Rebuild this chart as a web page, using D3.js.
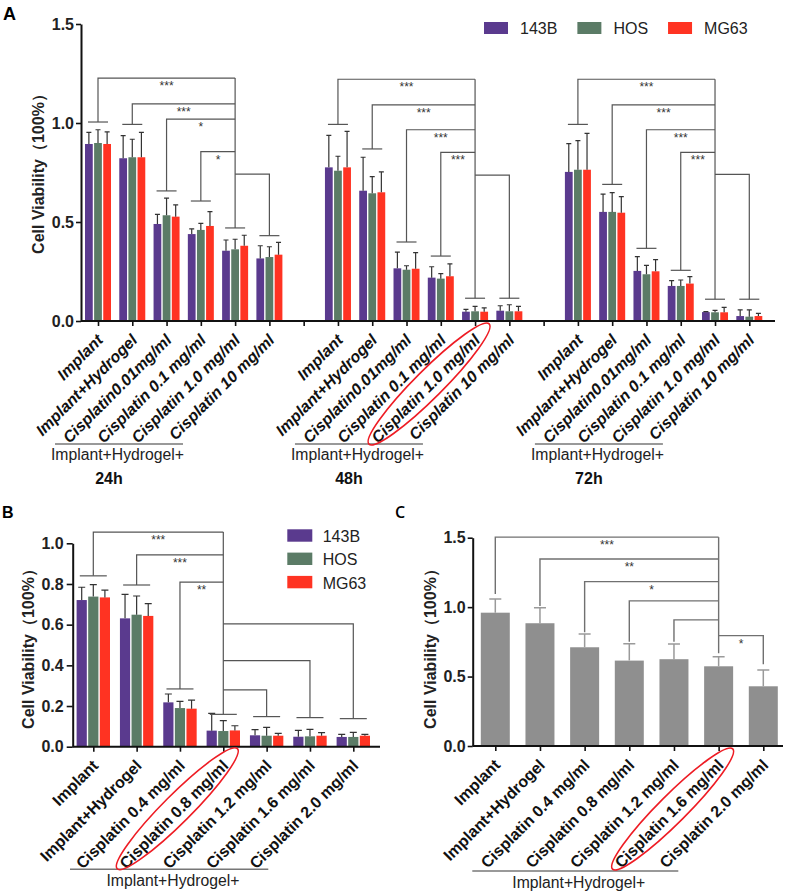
<!DOCTYPE html>
<html><head><meta charset="utf-8">
<script src="https://cdn.jsdelivr.net/npm/d3@7"></script>
<style>body{margin:0;background:#fff} svg{display:block}</style>
</head><body>
<svg id="c" width="789" height="892"></svg>
<script>
// ---------------- DATA ----------------
const series = ["143B", "HOS", "MG63"];
const seriesColors = ["#5a3a8e", "#5b7b66", "#ff3322"];
const timepoints = ["24h", "48h", "72h"];
const catsA = ["Implant", "Implant+Hydrogel", "Cisplatin0.01mg/ml", "Cisplatin 0.1 mg/ml", "Cisplatin 1.0 mg/ml", "Cisplatin 10  mg/ml"];
const catsB = ["Implant", "Implant+Hydrogel", "Cisplatin 0.4 mg/ml", "Cisplatin 0.8 mg/ml", "Cisplatin 1.2 mg/ml", "Cisplatin 1.6 mg/ml", "Cisplatin 2.0 mg/ml"];
const catsC = catsB.slice();
const groupLabel = "Implant+Hydrogel+";

// Panel A means / SD  [category][series]
const meanA24 = [[0.894,0.899,0.894],[0.822,0.827,0.827],[0.490,0.534,0.527],[0.439,0.460,0.480],[0.355,0.362,0.380],[0.316,0.323,0.335]];
const sdA24   = [[0.059,0.067,0.061],[0.114,0.091,0.126],[0.049,0.087,0.059],[0.026,0.033,0.072],[0.054,0.051,0.053],[0.064,0.052,0.062]];
const meanA48 = [[0.776,0.759,0.776],[0.658,0.645,0.650],[0.266,0.259,0.264],[0.219,0.214,0.226],[0.047,0.049,0.047],[0.052,0.049,0.049]];
const sdA48   = [[0.162,0.073,0.182],[0.169,0.084,0.103],[0.082,0.020,0.081],[0.055,0.025,0.063],[0.012,0.025,0.019],[0.025,0.033,0.025]];
const meanA72 = [[0.753,0.764,0.764],[0.551,0.551,0.547],[0.253,0.236,0.251],[0.177,0.177,0.189],[0.045,0.044,0.044],[0.025,0.022,0.025]];
const sdA72   = [[0.143,0.147,0.184],[0.090,0.097,0.081],[0.072,0.045,0.059],[0.027,0.030,0.035],[0.002,0.010,0.025],[0.031,0.034,0.014]];

// Panel B
const meanB = [[0.721,0.738,0.734],[0.631,0.649,0.643],[0.218,0.190,0.187],[0.079,0.077,0.080],[0.056,0.054,0.054],[0.049,0.051,0.054],[0.048,0.048,0.054]];
const sdB   = [[0.063,0.059,0.036],[0.118,0.092,0.060],[0.041,0.033,0.042],[0.085,0.051,0.023],[0.028,0.041,0.012],[0.031,0.034,0.015],[0.013,0.022,0.007]];

// Panel C (single series)
const meanC = [0.960,0.884,0.711,0.615,0.625,0.574,0.430];
const sdC   = [0.099,0.112,0.096,0.122,0.110,0.069,0.118];

// y tick values
const ticksA = [0, 0.5, 1.0, 1.5];
const ticksB = [0, 0.2, 0.4, 0.6, 0.8, 1.0];
const ticksC = [0, 0.5, 1.0, 1.5];

// significance brackets: ref category, cap level per category, links [other, level, label]
const sigA24 = {ref:4, caps:[1.005,0.993,0.657,0.606,0.470,0.431], links:[[0,1.227,"***"],[1,1.097,"***"],[2,1.020,"*"],[3,0.855,"*"],[5,0.742,""]]};
const sigA48 = {ref:4, caps:[0.993,0.869,0.399,0.328,0.115,0.115], links:[[0,1.221,"***"],[1,1.092,"***"],[2,0.966,"***"],[3,0.852,"***"],[5,0.737,""]]};
const sigA72 = {ref:4, caps:[0.993,0.690,0.367,0.256,0.110,0.110], links:[[0,1.221,"***"],[1,1.092,"***"],[2,0.966,"***"],[3,0.852,"***"],[5,0.741,""]]};
const sigB   = {ref:3, caps:[0.840,0.795,0.284,0.159,0.148,0.143,0.138], links:[[0,1.055,"***"],[1,0.943,"***"],[2,0.809,"**"],[6,0.604,""],[5,0.423,""],[4,0.279,""]]};
const sigC   = {ref:5, caps:[1.095,1.009,0.819,0.751,0.751,0.668,0.589], links:[[0,1.504,"***"],[1,1.347,"**"],[2,1.184,"*"],[3,1.045,""],[4,0.908,""],[6,0.795,"*"]]};

// ---------------- DRAW ----------------
const FONT = "'Liberation Sans', Arial, Helvetica, sans-serif";
const NARROW = "'Liberation Sans Narrow', 'Arial Narrow', 'Liberation Sans', sans-serif";
const svg = d3.select("#c");

function yAxis(g, y, ticks, left, size, pad, fs) {
  const ax = d3.axisLeft(y).tickValues(ticks).tickFormat(d3.format(".1f")).tickSize(size).tickPadding(pad).tickSizeOuter(0);
  const a = g.append("g").attr("transform", `translate(${left},0)`).call(ax);
  a.select(".domain").attr("stroke", "#111").attr("stroke-width", 2);
  a.selectAll(".tick line").attr("stroke", "#111").attr("stroke-width", 1.6);
  a.selectAll(".tick text").attr("font-family", FONT).attr("font-weight", "bold").attr("font-size", fs).attr("fill", "#222");
}
function xAxis(g, x, axisY, left, right) {
  const ax = d3.axisBottom(x).tickSize(5).tickFormat("").tickSizeOuter(0);
  const a = g.append("g").attr("transform", `translate(0,${axisY})`).call(ax);
  a.select(".domain").attr("d", `M${left},0H${right}`).attr("stroke", "#111").attr("stroke-width", 2);
  a.selectAll(".tick line").attr("stroke", "#111").attr("stroke-width", 1.6);
}
function xLabels(g, items, axisY, italic) {
  g.selectAll(null).data(items).join("text")
    .attr("transform", d => `translate(${d.x + 6},${axisY + 20}) rotate(-45)`)
    .attr("text-anchor", "end")
    .attr("font-family", FONT).attr("font-weight", "bold")
    .attr("font-style", italic ? "italic" : "normal")
    .attr("font-size", 16).attr("fill", "#111")
    .text(d => d.label);
}
function brackets(g, xf, y, spec, capHalf, stroke, sw) {
  const xr = xf(spec.ref);
  let topRef = -Infinity;
  spec.links.forEach(([o, lvl, lab]) => {
    const xo = xf(o);
    topRef = Math.max(topRef, lvl);
    g.append("path").attr("d", `M${xo},${y(spec.caps[o])}V${y(lvl)}H${xr}`)
      .attr("fill", "none").attr("stroke", stroke).attr("stroke-width", sw);
    if (lab) g.append("text").attr("x", (xo + xr) / 2).attr("y", y(lvl) + 12)
      .attr("text-anchor", "middle").attr("font-family", FONT).attr("font-size", 12)
      .attr("fill", "#333").text(lab);
  });
  g.append("path").attr("d", `M${xr},${y(topRef)}V${y(spec.caps[spec.ref])}`)
    .attr("fill", "none").attr("stroke", stroke).attr("stroke-width", sw);
  if (capHalf > 0) {
    spec.caps.forEach((c, i) => {
      g.append("line").attr("x1", xf(i) - capHalf).attr("x2", xf(i) + capHalf)
        .attr("y1", y(c)).attr("y2", y(c)).attr("stroke", stroke).attr("stroke-width", sw);
    });
  }
}
function groupedBars(g, xf, sub, y, means, sds, capHalf) {
  means.forEach((row, ci) => {
    row.forEach((v, si) => {
      const cx = xf(ci) + sub(series[si]);
      const bw = sub.bandwidth();
      g.append("rect").attr("x", cx).attr("y", y(v)).attr("width", bw).attr("height", y(0) - y(v))
        .attr("fill", seriesColors[si]);
      const mx = cx + bw / 2, top = y(v + sds[ci][si]);
      g.append("path").attr("d", `M${mx},${y(v)}V${top}M${mx - capHalf},${top}H${mx + capHalf}`)
        .attr("stroke", "#333").attr("stroke-width", 1.2).attr("fill", "none");
    });
  });
}
function underline(g, x1, x2, yl, tx, ty) {
  g.append("line").attr("x1", x1).attr("x2", x2).attr("y1", yl).attr("y2", yl)
    .attr("stroke", "#777").attr("stroke-width", 1.6);
  g.append("text").attr("x", tx).attr("y", ty).attr("text-anchor", "middle")
    .attr("font-family", NARROW).attr("font-size", 16).attr("fill", "#222")
    .attr("textLength", 133).attr("lengthAdjust", "spacingAndGlyphs").text(groupLabel);
}
function yTitle(g, cx, cy) {
  g.append("text").attr("transform", `translate(${cx},${cy}) rotate(-90)`)
    .attr("text-anchor", "middle").attr("dominant-baseline", "central")
    .attr("font-family", FONT).attr("font-weight", "bold").attr("font-size", 16).attr("fill", "#222")
    .text("Cell Viability（100%）");
}
function ellipse(g, cx, cy) {
  g.append("ellipse").attr("cx", 0).attr("cy", 0).attr("rx", 85).attr("ry", 14)
    .attr("transform", `translate(${cx},${cy}) rotate(-45)`)
    .attr("fill", "none").attr("stroke", "#ee1c24").attr("stroke-width", 1.6);
}

// ===== Panel A =====
const gA = svg.append("g");
const slots = [];
timepoints.forEach((t, ti) => { if (ti > 0) slots.push("gap" + ti); catsA.forEach((c, ci) => slots.push(ti + "-" + ci)); });
const xA = d3.scalePoint().domain(slots).range([98, 749.3]);
const yA = d3.scaleLinear().domain([0, 1.5]).range([321, 24]);
const subA = d3.scaleBand().domain(series).range([-13, 13]).paddingInner(0.15);
const meansA = [meanA24, meanA48, meanA72], sdsA = [sdA24, sdA48, sdA72], sigsA = [sigA24, sigA48, sigA72];

gA.append("text").attr("x", 3).attr("y", 20).attr("font-family", FONT).attr("font-weight", "bold").attr("font-size", 18).text("A");
timepoints.forEach((t, ti) => {
  const xf = ci => xA(ti + "-" + ci);
  groupedBars(gA, xf, subA, yA, meansA[ti], sdsA[ti], 2.5);
  brackets(gA, xf, yA, sigsA[ti], 10, "#555", 1.2);
  xLabels(gA, catsA.map((c, ci) => ({x: xf(ci), label: c})), 321, true);
  const x0 = xf(0);
  underline(gA, x0 - 43, x0 + 85, 444, x0 + 19.5, 460);
  gA.append("text").attr("x", x0 + 11).attr("y", 484).attr("text-anchor", "middle")
    .attr("font-family", FONT).attr("font-weight", "bold").attr("font-size", 16).attr("fill", "#111").text(t);
});
xAxis(gA, xA, 321, 81, 775);
yAxis(gA, yA, ticksA, 81, 5, 2, 16);
yTitle(gA, 38, 170);
ellipse(gA, xA("1-4") - 46, 321 + 63);

// legend A
{
  let lx = 484;
  series.forEach((s, i) => {
    gA.append("rect").attr("x", lx).attr("y", 22).attr("width", 24).attr("height", 12).attr("fill", seriesColors[i]);
    const t = gA.append("text").attr("x", lx + 36).attr("y", 34).attr("font-family", FONT).attr("font-size", 16).attr("fill", "#222").text(s);
    lx += 36 + t.node().getComputedTextLength() + 20;
  });
}

// ===== Panel B =====
const gB = svg.append("g");
const xBp = d3.scalePoint().domain(catsB).range([93.3, 353.3]);
const xBf = i => xBp(catsB[i]);
const yB = d3.scaleLinear().domain([0, 1]).range([746.7, 543.3]);
const subB = d3.scaleBand().domain(series).range([-16.7, 16.7]).paddingInner(0.12);
gB.append("text").attr("x", 2).attr("y", 518).attr("font-family", FONT).attr("font-weight", "bold").attr("font-size", 16).text("B");
groupedBars(gB, xBf, subB, yB, meanB, sdB, 3.5);
brackets(gB, xBf, yB, sigB, 13.5, "#555", 1.2);
xAxis(gB, xBp, 746.7, 72.7, 380);
yAxis(gB, yB, ticksB, 72.7, 6, 3, 16);
yTitle(gB, 28, 645);
xLabels(gB, catsB.map((c, i) => ({x: xBf(i), label: c})), 746.7, false);
underline(gB, xBf(0) - 23.3, xBf(0) + 175, 869.3, 173, 886);
ellipse(gB, xBf(3) - 46, 746.7 + 62);
series.forEach((s, i) => {
  const ly = 529.3 + i * 23.3;
  gB.append("rect").attr("x", 287.3).attr("y", ly).attr("width", 25).attr("height", 12.4).attr("fill", seriesColors[i]);
  gB.append("text").attr("x", 322.7).attr("y", ly + 12.6).attr("font-family", FONT).attr("font-size", 16).attr("fill", "#222").text(s);
});

// ===== Panel C =====
const gC = svg.append("g");
const xCp = d3.scalePoint().domain(catsC).range([495.3, 763.3]);
const xCf = i => xCp(catsC[i]);
const yC = d3.scaleLinear().domain([0, 1.5]).range([746, 537.7]);
gC.append("text").attr("x", 395).attr("y", 518.3).attr("font-family", "'Open Sans', sans-serif").attr("font-weight", 600).attr("font-size", 16).text("C");
meanC.forEach((v, i) => {
  const cx = xCf(i);
  gC.append("rect").attr("x", cx - 14.5).attr("y", yC(v)).attr("width", 29).attr("height", yC(0) - yC(v)).attr("fill", "#8f8f8f");
  const top = yC(v + sdC[i]);
  gC.append("path").attr("d", `M${cx},${yC(v)}V${top}M${cx - 6},${top}H${cx + 6}`)
    .attr("stroke", "#9a9a9a").attr("stroke-width", 1.5).attr("fill", "none");
});
brackets(gC, xCf, yC, sigC, 0, "#707070", 1.4);
xAxis(gC, xCp, 746, 472.7, 783);
yAxis(gC, yC, ticksC, 472.7, 5, 2, 16);
yTitle(gC, 430, 645);
xLabels(gC, catsC.map((c, i) => ({x: xCf(i), label: c})), 746, false);
underline(gC, xCf(0) - 23, xCf(0) + 183, 871, 578.8, 887.5);
ellipse(gC, xCf(5) - 46, 746 + 63);
</script>
</body></html>
